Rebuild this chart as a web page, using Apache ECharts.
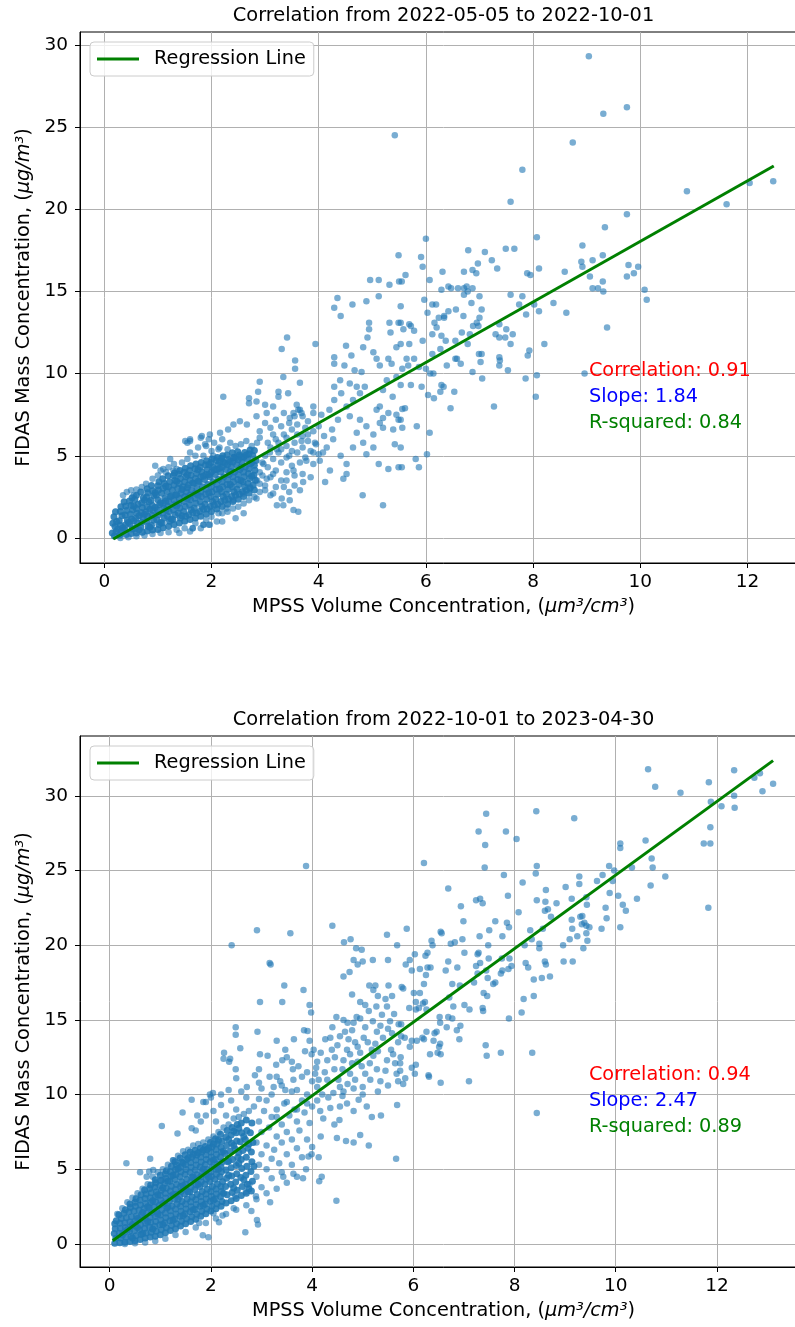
<!DOCTYPE html>
<html>
<head>
<meta charset="utf-8">
<script src="https://cdn.jsdelivr.net/npm/echarts@6/dist/echarts.min.js"></script>
<style>
html,body{margin:0;padding:0;background:#fff;overflow:hidden;}
#main{width:810px;height:1327px;}
</style>
</head>
<body>
<div id="main"></div>
<script>
// ---------- DATA ----------
const titles = ["Correlation from 2022-05-05 to 2022-10-01", "Correlation from 2022-10-01 to 2023-04-30"];
const xTicks = [0, 2, 4, 6, 8, 10, 12];
const yTicks = [0, 5, 10, 15, 20, 25, 30];
const statsTop = { corr: "0.91", slope: "1.84", r2: "0.84" };
const statsBottom = { corr: "0.94", slope: "2.47", r2: "0.89" };
const regTop = [[0.168, -0.06], [12.49, 22.63]];
const regBottom = [[0.059, 0.22], [13.11, 32.35]];

// Top chart: dense core
const topCore = [
[0.15,0.3],[0.16,0.9],[0.19,0.12],[0.22,0.4],[0.2,0.7],[0.23,1.0],[0.18,1.3],[0.21,1.6],
[0.29,0.18],[0.32,0.45],[0.3,0.78],[0.28,1.05],[0.33,1.35],[0.3,1.62],[0.31,1.9],
[0.41,0.22],[0.38,0.5],[0.4,0.8],[0.43,1.1],[0.39,1.4],[0.42,1.68],[0.4,1.95],[0.37,2.2],
[0.5,0.27],[0.52,0.55],[0.48,0.85],[0.51,1.15],[0.49,1.45],[0.53,1.72],[0.5,2.0],[0.47,2.25],[0.52,2.45],
[0.6,0.3],[0.58,0.6],[0.62,0.9],[0.59,1.2],[0.61,1.5],[0.6,1.8],[0.63,2.05],[0.57,2.35],[0.6,2.6],
[0.71,0.35],[0.68,0.66],[0.7,0.95],[0.72,1.25],[0.69,1.55],[0.71,1.85],[0.7,2.15],[0.73,2.45],[0.68,2.8],
[0.8,0.42],[0.82,0.72],[0.79,1.02],[0.81,1.32],[0.78,1.6],[0.8,1.9],[0.83,2.2],[0.79,2.5],[0.81,2.75],[0.8,3.0],
[0.9,0.48],[0.88,0.78],[0.92,1.08],[0.89,1.38],[0.91,1.68],[0.9,1.98],[0.87,2.28],[0.92,2.58],[0.9,2.88],[0.88,3.2],
[1.0,0.52],[1.02,0.82],[0.98,1.12],[1.01,1.42],[0.99,1.72],[1.03,2.02],[1.0,2.32],[0.97,2.62],[1.01,2.92],[1.0,3.18],[1.02,3.42],
[1.1,0.62],[1.08,0.92],[1.12,1.22],[1.09,1.52],[1.11,1.82],[1.1,2.12],[1.13,2.42],[1.07,2.72],[1.1,3.02],[1.12,3.32],[1.09,3.6],
[1.2,0.72],[1.22,1.02],[1.18,1.32],[1.21,1.62],[1.19,1.92],[1.2,2.22],[1.23,2.52],[1.17,2.82],[1.2,3.12],[1.22,3.42],[1.19,3.78],
[1.3,0.82],[1.28,1.12],[1.32,1.42],[1.29,1.72],[1.31,2.02],[1.3,2.32],[1.33,2.62],[1.27,2.92],[1.3,3.22],[1.32,3.52],[1.29,3.8],[1.31,3.95],
[1.4,0.92],[1.42,1.22],[1.38,1.52],[1.41,1.82],[1.39,2.12],[1.4,2.42],[1.43,2.72],[1.37,3.02],[1.4,3.32],[1.42,3.62],[1.39,3.9],[1.41,4.1],
[1.5,1.02],[1.52,1.32],[1.48,1.62],[1.51,1.92],[1.49,2.22],[1.5,2.52],[1.53,2.82],[1.47,3.12],[1.5,3.42],[1.52,3.72],[1.49,4.0],[1.51,4.25],
[1.6,1.12],[1.58,1.42],[1.62,1.72],[1.59,2.02],[1.61,2.32],[1.6,2.62],[1.63,2.92],[1.57,3.22],[1.6,3.52],[1.62,3.82],[1.59,4.1],[1.61,4.4],
[1.7,1.22],[1.72,1.52],[1.68,1.82],[1.71,2.12],[1.69,2.42],[1.7,2.72],[1.73,3.02],[1.67,3.32],[1.7,3.62],[1.72,3.92],[1.69,4.22],[1.71,4.5],
[1.8,1.32],[1.78,1.62],[1.82,1.92],[1.79,2.22],[1.81,2.52],[1.8,2.82],[1.83,3.12],[1.77,3.42],[1.8,3.72],[1.82,4.02],[1.79,4.32],[1.81,4.6],
[1.9,1.46],[1.92,1.76],[1.88,2.06],[1.91,2.36],[1.89,2.66],[1.9,2.96],[1.93,3.26],[1.87,3.56],[1.9,3.86],[1.92,4.16],[1.89,4.46],[1.91,4.7],
[2.0,1.62],[1.98,1.92],[2.02,2.22],[1.99,2.52],[2.01,2.82],[2.0,3.12],[2.03,3.42],[1.97,3.72],[2.0,4.02],[2.02,4.32],[1.99,4.6],[2.01,4.8],
[2.1,1.76],[2.12,2.06],[2.08,2.36],[2.11,2.66],[2.09,2.96],[2.1,3.26],[2.13,3.56],[2.07,3.86],[2.1,4.16],[2.12,4.46],[2.09,4.72],[2.11,4.9],
[2.2,1.92],[2.18,2.22],[2.22,2.52],[2.19,2.82],[2.21,3.12],[2.2,3.42],[2.23,3.72],[2.17,4.02],[2.2,4.32],[2.22,4.62],[2.19,4.85],[2.21,5.0],
[2.3,2.06],[2.32,2.36],[2.28,2.66],[2.31,2.96],[2.29,3.26],[2.3,3.56],[2.33,3.86],[2.27,4.16],[2.3,4.46],[2.32,4.76],[2.29,5.05],
[2.4,2.22],[2.38,2.52],[2.42,2.82],[2.39,3.12],[2.41,3.42],[2.4,3.72],[2.43,4.02],[2.37,4.32],[2.4,4.62],[2.42,4.92],[2.39,5.18],
[2.5,2.36],[2.52,2.66],[2.48,2.96],[2.51,3.26],[2.49,3.56],[2.5,3.86],[2.53,4.16],[2.47,4.46],[2.5,4.76],[2.52,5.05],[2.49,5.25],
[2.6,2.52],[2.58,2.82],[2.62,3.12],[2.59,3.42],[2.61,3.72],[2.6,4.02],[2.63,4.32],[2.57,4.62],[2.6,4.92],[2.62,5.2],
[2.7,2.72],[2.72,3.02],[2.68,3.32],[2.71,3.62],[2.69,3.92],[2.7,4.22],[2.73,4.52],[2.67,4.82],[2.7,5.12],[2.72,5.35],
[2.8,2.92],[2.78,3.22],[2.82,3.52],[2.79,3.82],[2.81,4.12],[2.8,4.42],[2.83,4.72],[2.77,5.02],[2.8,5.32],
[0.25,0.55],[0.35,0.62],[0.45,0.95],[0.55,1.05],[0.65,1.35],[0.75,1.45],[0.85,1.75],[0.95,1.85],[1.05,2.15],[1.15,2.25],
[1.25,2.55],[1.35,2.65],[1.45,2.95],[1.55,3.05],[1.65,3.35],[1.75,3.45],[1.85,3.75],[1.95,3.85],[2.05,4.15],[2.15,4.25],
[2.25,4.55],[2.35,4.65],[2.45,4.85],[2.55,4.95],[2.65,5.05],[0.55,1.95],[0.75,2.3],[0.95,2.75],[1.15,3.15],[1.35,3.45],
[1.55,3.85],[1.75,4.15],[1.95,4.45],[2.15,4.65],[0.65,0.5],[0.85,0.65],[1.05,0.95],[1.25,1.15],[1.45,1.35],[1.65,1.55],
[1.85,1.75],[2.05,2.0],[2.25,2.3],[2.45,2.6],[2.65,2.9],[1.15,1.7],[1.35,1.95],[1.55,2.4],[1.75,2.6],[1.95,2.75],
[2.15,3.0],[2.35,3.25],[2.55,3.5],[2.75,3.75],[2.35,4.05],[2.55,4.3],[2.75,4.6]
];
const topHalo = [
[0.35,2.6],[0.42,2.8],[0.5,2.9],[0.55,2.6],[0.6,2.95],[0.7,3.1],[0.78,3.3],[0.9,3.6],[1.0,3.8],[1.05,4.1],[1.15,4.0],[1.2,4.3],
[1.3,4.5],[1.35,4.2],[1.45,4.6],[1.55,4.8],[1.6,5.2],[1.55,5.8],[1.6,5.9],[1.7,5.0],[1.75,5.5],[1.85,5.0],[1.9,5.6],[1.95,6.0],
[2.0,5.3],[2.05,5.8],[2.15,5.5],[2.2,6.0],[2.3,5.4],[2.35,5.8],[2.45,5.6],[2.55,5.7],[2.65,5.9],[2.75,5.6],[2.85,5.8],[2.9,6.1],[1.8,6.1],
[0.3,0.0],[0.45,0.05],[0.6,0.1],[0.75,0.15],[0.9,0.25],[1.05,0.3],[1.2,0.35],[1.35,0.5],[1.5,0.6],[1.6,0.4],[1.7,0.9],[1.8,0.6],
[1.9,1.1],[2.0,1.3],[2.1,1.0],[2.2,1.5],[2.3,1.6],[2.4,1.8],[2.5,1.9],[2.6,2.1],[2.7,2.3],[2.8,2.5],[2.9,2.8],[1.65,0.6],[1.95,0.8],
[1.85,0.8],[2.45,1.2],[2.6,1.5],[2.2,1.0],[1.4,0.3],
[2.85,3.5],[2.9,4.0],[2.95,4.6],[3.0,3.2],[3.0,5.0],[3.05,4.3],[3.1,3.7],[3.1,5.5],[3.15,4.8],[3.2,4.1],[3.2,6.0],[3.25,5.2],
[3.3,3.5],[3.3,4.6],[3.35,6.3],[3.4,5.6],[3.4,4.0],[3.45,5.0],[3.5,6.6],[3.5,4.4],[3.55,3.8],[3.55,5.8],[3.6,5.2],[3.6,6.9],
[3.65,4.6],[3.7,6.2],[3.7,5.5],[3.75,4.9],[3.8,5.9],[3.8,7.1],[3.85,5.3],[3.9,6.5],[3.9,4.5],[3.95,5.7],[4.0,6.8],[4.0,5.1],
[2.9,6.5],[3.0,7.0],[3.1,6.7],[3.2,7.2],[3.3,6.8],[3.35,7.6],[3.45,7.0],[3.55,7.4],[3.65,7.8],[3.7,7.4],[4.05,7.5],[4.1,6.2],
[4.15,5.5],[4.2,7.8],[4.25,6.6],[3.0,2.9],[3.1,2.6],[3.2,3.1],[3.35,3.1],[3.45,2.8],[3.55,3.2],[3.7,3.9],[3.85,3.7],[2.95,3.8],
[3.05,5.8],[3.25,5.8],[3.6,6.3],[3.75,6.7],[3.9,7.6],[3.5,5.3],[3.3,5.4],[3.15,6.3]
];
const topSpread = [
[5.42,24.5],[5.49,17.2],[4.96,15.7],[5.12,15.7],[5.32,15.4],[5.5,15.6],[4.35,14.6],[4.63,14.2],[4.29,14.0],[4.41,13.5],[4.89,14.4],
[5.12,14.7],[4.94,13.1],[4.94,12.7],[4.91,12.2],[5.32,13.1],[5.49,13.1],[5.34,12.5],[5.45,11.6],[3.41,12.2],[3.31,11.5],[3.94,11.8],
[4.51,11.7],[4.61,11.1],[4.83,11.6],[5.02,11.3],[4.29,11.0],[4.29,10.6],[4.48,10.5],[4.67,10.2],[4.8,10.1],[5.08,10.9],[5.14,10.5],
[5.3,10.9],[5.36,10.6],[3.56,10.8],[3.56,10.3],[3.34,9.8],[3.65,9.45],[2.9,9.5],[2.87,8.9],[2.7,8.5],[2.7,8.2],[2.22,8.6],[2.84,8.3],
[4.29,9.2],[4.4,9.6],[4.58,9.4],[4.71,9.2],[4.86,9.2],[4.77,8.8],[4.64,8.4],[4.52,8.0],[4.42,8.8],[4.29,8.4],[5.27,9.6],[5.45,9.8],
[5.2,9.0],[5.38,8.6],[5.14,8.0],[5.3,7.6],[5.08,7.8],[5.2,7.3],[5.14,7.0],[5.2,6.7],[5.02,6.3],[5.45,7.5],[5.49,7.2],[5.39,6.6],
[5.42,5.7],[4.77,7.2],[4.58,7.4],[4.89,6.8],[4.71,6.4],[4.83,5.8],[5.02,5.5],[4.64,5.5],[4.89,5.1],[4.41,5.0],[4.52,4.5],[4.27,6.0],
[4.36,7.2],[5.3,4.2],[5.12,4.5],[4.82,2.6],[5.2,2.0],[5.49,4.3],[4.46,3.6],[4.52,3.9],[4.12,3.4],[4.21,4.1],[3.62,1.6],[3.53,1.7],
[3.34,2.0],[3.22,2.0],[3.31,2.4],[3.46,2.3],[3.65,2.9],[3.71,3.4],[3.15,2.7],[2.84,2.4],[3.4,6.1],[3.46,7.3],[3.53,7.6],[3.68,7.6],
[3.62,7.8],[3.9,8.0],[3.59,8.1],[3.43,8.8],[3.25,8.9],[3.25,8.6],[3.15,8.0],[3.03,7.6],[3.0,8.1],[2.84,7.4],[2.66,6.9],[2.53,7.1],
[2.41,6.9],[2.31,6.6],[2.16,6.4],[1.97,6.3],[1.82,6.2],[1.51,5.9],[1.6,6.0],[2.13,5.4],[1.88,5.7],[2.03,5.0],[2.41,4.9],[0.95,4.4],
[1.1,4.2],[1.23,4.8],[1.29,4.1],[3.68,5.9],[3.8,6.3],[3.93,5.8],[3.9,5.2],[3.77,4.7],[4.02,4.7],[4.08,5.2],[3.4,4.9],[3.22,5.4],
[3.09,5.2],[2.97,4.5],[3.53,4.1],[3.4,3.5],[3.15,3.9],[3.03,3.6],[2.9,3.3],[2.72,3.1],[2.59,2.7],[2.41,2.3],[2.28,1.8],[2.13,1.5],
[1.97,0.8],[1.85,0.8],[1.65,0.6],
[9.04,29.3],[9.31,25.8],[9.75,26.2],
[8.74,24.06],[7.8,22.4],[7.58,20.45],[10.87,21.1],[12.04,21.6],[12.48,21.7],[11.61,20.3],[9.75,19.7],[9.34,18.9],[6.0,18.2],
[8.07,18.3],[8.92,17.8],[7.49,17.6],[7.65,17.6],[6.79,17.5],[7.1,17.4],[5.91,17.1],[5.94,16.5],[5.62,16.0],[5.55,15.6],[6.97,16.7],
[7.23,16.9],[7.33,16.4],[6.71,16.2],[6.87,16.3],[6.94,16.1],[6.31,16.2],[6.07,15.7],[7.89,16.1],[7.95,16.0],[8.11,16.4],[8.9,16.8],
[8.92,16.5],[9.11,16.9],[9.3,17.2],[9.78,16.6],[9.96,16.5],[9.75,15.9],[9.88,16.1],[8.59,16.2],[9.06,15.9],[9.3,15.6],[9.11,15.2],
[9.21,15.2],[9.31,15.0],[10.08,15.1],[10.12,14.5],[9.38,12.8],[8.62,13.7],[8.38,14.3],[7.58,14.8],[7.8,14.7],[7.74,14.2],[7.87,13.6],
[8.02,14.2],[8.11,13.8],[6.42,15.3],[6.47,15.2],[6.6,15.2],[6.71,15.2],[6.76,15.3],[6.87,15.2],[6.29,15.1],[6.71,14.8],[6.78,15.0],
[7.0,14.7],[6.85,14.3],[6.56,13.9],[6.42,13.8],[6.34,13.5],[6.34,13.4],[6.24,13.4],[6.16,13.1],[6.2,12.8],[6.12,12.4],[6.29,12.3],
[6.03,13.7],[6.12,14.2],[6.19,14.2],[5.97,14.5],[5.53,14.1],[6.7,13.5],[7.0,13.4],[7.04,13.9],[6.95,13.1],[6.98,12.9],[6.88,12.9],
[6.82,12.4],[6.67,12.5],[7.37,13.0],[7.3,12.4],[7.37,12.2],[7.5,12.7],[7.62,12.4],[7.48,12.2],[7.58,11.8],[6.55,12.0],[6.78,11.8],
[6.37,12.0],[6.27,11.5],[6.12,11.2],[5.69,13.0],[5.78,12.6],[5.72,12.9],[5.53,13.1],[5.58,12.7],[5.69,11.8],[5.94,12.0],[5.53,11.8],
[5.64,10.9],[5.78,10.9],[6.0,10.3],[5.87,10.4],[5.67,10.5],[5.56,10.3],[6.55,10.9],[6.58,10.9],[6.39,10.5],[6.65,10.6],[6.87,10.1],
[7.05,9.7],[6.99,11.2],[7.04,11.2],[7.02,10.7],[7.37,11.0],[7.38,10.8],[7.37,10.5],[7.53,10.2],[7.9,11.1],[7.93,11.4],[8.21,11.8],
[7.86,9.7],[8.07,9.9],[8.05,8.6],[7.27,8.0],[8.96,10.0],[6.29,9.3],[6.33,9.2],[6.27,8.9],[6.53,8.9],[6.46,7.9],[6.04,8.7],[6.15,8.5],
[6.08,10.0],[6.14,10.0],[5.92,9.2],[5.72,9.3],[5.53,9.3],[5.56,7.85],[5.61,7.9],[5.53,7.2],[5.56,6.7],[5.83,6.8],[6.07,6.4],[5.53,5.5],
[5.81,4.8],[5.87,4.3],[6.02,5.1],[5.55,4.3]
];

// Bottom chart
const bottomCore = [
[0.1,0.05],[0.12,0.38],[0.09,0.7],[0.11,1.02],[0.1,1.35],[0.13,1.55],
[0.2,0.08],[0.22,0.4],[0.19,0.72],[0.21,1.05],[0.2,1.38],[0.23,1.7],[0.18,1.95],
[0.3,0.12],[0.32,0.45],[0.29,0.78],[0.31,1.1],[0.3,1.43],[0.33,1.76],[0.28,2.05],[0.31,2.3],
[0.4,0.16],[0.42,0.5],[0.39,0.83],[0.41,1.16],[0.4,1.49],[0.43,1.82],[0.38,2.15],[0.41,2.45],[0.4,2.68],
[0.5,0.22],[0.52,0.55],[0.49,0.88],[0.51,1.21],[0.5,1.54],[0.53,1.87],[0.48,2.2],[0.51,2.52],[0.5,2.8],[0.52,3.02],
[0.6,0.3],[0.62,0.63],[0.59,0.96],[0.61,1.29],[0.6,1.62],[0.63,1.95],[0.58,2.28],[0.61,2.61],[0.6,2.94],[0.62,3.3],
[0.7,0.4],[0.72,0.73],[0.69,1.06],[0.71,1.39],[0.7,1.72],[0.73,2.05],[0.68,2.38],[0.71,2.71],[0.7,3.04],[0.72,3.35],[0.69,3.62],
[0.8,0.46],[0.82,0.79],[0.79,1.12],[0.81,1.45],[0.8,1.78],[0.83,2.11],[0.78,2.44],[0.81,2.77],[0.8,3.1],[0.82,3.43],[0.79,3.72],[0.81,3.95],
[0.9,0.52],[0.92,0.85],[0.89,1.18],[0.91,1.51],[0.9,1.84],[0.93,2.17],[0.88,2.5],[0.91,2.83],[0.9,3.16],[0.92,3.49],[0.89,3.82],[0.91,4.1],[0.9,4.3],
[1.0,0.62],[1.02,0.95],[0.99,1.28],[1.01,1.61],[1.0,1.94],[1.03,2.27],[0.98,2.6],[1.01,2.93],[1.0,3.26],[1.02,3.59],[0.99,3.92],[1.01,4.25],[1.0,4.6],
[1.1,0.76],[1.12,1.09],[1.09,1.42],[1.11,1.75],[1.1,2.08],[1.13,2.41],[1.08,2.74],[1.11,3.07],[1.1,3.4],[1.12,3.73],[1.09,4.06],[1.11,4.39],[1.1,4.7],[1.12,4.9],
[1.2,0.9],[1.22,1.23],[1.19,1.56],[1.21,1.89],[1.2,2.22],[1.23,2.55],[1.18,2.88],[1.21,3.21],[1.2,3.54],[1.22,3.87],[1.19,4.2],[1.21,4.53],[1.2,4.86],[1.22,5.2],
[1.3,1.02],[1.32,1.35],[1.29,1.68],[1.31,2.01],[1.3,2.34],[1.33,2.67],[1.28,3.0],[1.31,3.33],[1.3,3.66],[1.32,3.99],[1.29,4.32],[1.31,4.65],[1.3,4.98],[1.32,5.28],[1.29,5.5],
[1.4,1.2],[1.42,1.53],[1.39,1.86],[1.41,2.19],[1.4,2.52],[1.43,2.85],[1.38,3.18],[1.41,3.51],[1.4,3.84],[1.42,4.17],[1.39,4.5],[1.41,4.83],[1.4,5.16],[1.42,5.48],[1.39,5.75],
[1.5,1.36],[1.52,1.69],[1.49,2.02],[1.51,2.35],[1.5,2.68],[1.53,3.01],[1.48,3.34],[1.51,3.67],[1.5,4.0],[1.52,4.33],[1.49,4.66],[1.51,4.99],[1.5,5.32],[1.52,5.65],[1.49,5.98],
[1.6,1.5],[1.62,1.83],[1.59,2.16],[1.61,2.49],[1.6,2.82],[1.63,3.15],[1.58,3.48],[1.61,3.81],[1.6,4.14],[1.62,4.47],[1.59,4.8],[1.61,5.13],[1.6,5.46],[1.62,5.8],[1.59,6.15],
[1.7,1.66],[1.72,1.99],[1.69,2.32],[1.71,2.65],[1.7,2.98],[1.73,3.31],[1.68,3.64],[1.71,3.97],[1.7,4.3],[1.72,4.63],[1.69,4.96],[1.71,5.29],[1.7,5.62],[1.72,5.95],[1.69,6.28],
[1.8,1.86],[1.82,2.19],[1.79,2.52],[1.81,2.85],[1.8,3.18],[1.83,3.51],[1.78,3.84],[1.81,4.17],[1.8,4.5],[1.82,4.83],[1.79,5.16],[1.81,5.49],[1.8,5.82],[1.82,6.15],[1.79,6.4],
[1.9,2.02],[1.92,2.35],[1.89,2.68],[1.91,3.01],[1.9,3.34],[1.93,3.67],[1.88,4.0],[1.91,4.33],[1.9,4.66],[1.92,4.99],[1.89,5.32],[1.91,5.65],[1.9,5.98],[1.92,6.3],[1.89,6.52],
[2.0,2.2],[2.02,2.53],[1.99,2.86],[2.01,3.19],[2.0,3.52],[2.03,3.85],[1.98,4.18],[2.01,4.51],[2.0,4.84],[2.02,5.17],[1.99,5.5],[2.01,5.83],[2.0,6.16],[2.02,6.5],[1.99,6.8],
[2.1,2.36],[2.12,2.69],[2.09,3.02],[2.11,3.35],[2.1,3.68],[2.13,4.01],[2.08,4.34],[2.11,4.67],[2.1,5.0],[2.12,5.33],[2.09,5.66],[2.11,5.99],[2.1,6.32],[2.12,6.7],[2.09,7.05],
[2.2,2.52],[2.22,2.85],[2.19,3.18],[2.21,3.51],[2.2,3.84],[2.23,4.17],[2.18,4.5],[2.21,4.83],[2.2,5.16],[2.22,5.49],[2.19,5.82],[2.21,6.15],[2.2,6.48],[2.22,6.9],[2.19,7.35],
[2.3,2.75],[2.32,3.3],[2.29,3.85],[2.31,4.4],[2.3,4.95],[2.33,5.5],[2.28,6.05],[2.31,6.6],[2.3,7.15],[2.32,7.6],
[2.4,2.9],[2.42,3.45],[2.39,4.0],[2.41,4.55],[2.4,5.1],[2.43,5.65],[2.38,6.2],[2.41,6.75],[2.4,7.3],[2.42,7.8],
[2.5,3.05],[2.52,3.6],[2.49,4.15],[2.51,4.7],[2.5,5.25],[2.53,5.8],[2.48,6.35],[2.51,6.9],[2.5,7.45],[2.52,8.0],
[2.6,3.25],[2.62,3.85],[2.59,4.45],[2.61,5.05],[2.6,5.65],[2.63,6.25],[2.58,6.85],[2.61,7.45],[2.6,8.1],
[2.7,3.4],[2.72,4.0],[2.69,4.6],[2.71,5.2],[2.7,5.8],[2.73,6.4],[2.68,7.0],[2.71,7.6],[2.7,8.3],
[2.8,3.55],[2.82,4.2],[2.79,4.85],[2.81,5.5],[2.8,6.15],[2.83,6.8],[2.78,7.45],[2.81,8.1],
[0.25,0.6],[0.35,0.95],[0.45,1.3],[0.55,1.7],[0.65,2.1],[0.75,2.5],[0.85,2.9],[0.95,3.3],[1.05,3.75],[1.15,4.2],
[1.25,4.6],[1.35,5.05],[1.45,5.4],[1.55,5.75],[1.65,6.0],[1.75,6.1],[1.85,6.3],[1.95,6.4],[2.05,6.7],[2.15,6.95],
[0.45,0.4],[0.65,0.7],[0.85,1.0],[1.05,1.3],[1.25,1.6],[1.45,1.9],[1.65,2.3],[1.85,2.6],[2.05,2.95],[2.25,3.4],
[0.55,1.1],[0.75,1.5],[0.95,2.0],[1.15,2.5],[1.35,3.0],[1.55,3.5],[1.75,4.0],[1.95,4.5],[2.15,5.0],[2.35,5.55],
[1.05,2.7],[1.25,3.3],[1.45,3.9],[1.65,4.5],[1.85,5.0],[2.05,5.6],[2.25,6.2],[2.45,6.6],[2.35,4.6],[2.55,5.4],
[2.45,3.75],[2.65,4.3],[2.55,6.1],[2.75,6.7],[2.65,7.2],[2.85,5.2],[2.75,3.7],[2.35,7.0],[2.45,7.55],[2.55,7.75]
];
const bottomHalo = [
[2.9,4.5],[2.95,5.3],[3.0,6.0],[2.9,6.8],[3.0,7.5],[2.95,8.2],[3.05,8.9],[3.1,5.0],[3.1,6.6],[3.15,7.8],[3.2,5.7],[3.2,8.5],
[3.25,6.3],[3.3,7.2],[3.3,9.0],[3.35,5.4],[3.4,6.8],[3.4,8.0],[3.45,9.4],[3.5,6.0],[3.5,7.5],[3.55,8.6],[3.6,5.3],[3.6,7.0],
[3.65,9.0],[3.7,6.4],[3.7,8.2],[3.75,7.6],[3.8,9.6],[3.8,5.8],[3.85,8.8],[3.9,7.0],[3.9,10.0],[3.95,8.1],[4.0,9.2],[4.0,6.5],
[3.1,9.6],[3.2,10.0],[2.95,9.7],[2.85,9.2],[2.75,8.9],[2.65,8.7],[2.55,8.5],[2.45,8.4],[2.35,8.0],[2.25,7.8],[2.15,7.5],[2.05,7.2],
[1.95,7.0],[1.85,6.8],[1.75,6.7],[1.65,6.6],[1.55,6.3],[1.45,6.2],[1.35,5.9],[1.25,5.6],[1.15,5.3],[1.05,5.0],[0.95,4.8],[0.85,4.5],
[0.75,4.0],[0.65,3.7],[0.55,3.4],[0.45,3.1],[0.35,2.8],[0.25,2.4],[0.15,2.0],[2.5,9.0],[2.3,8.6],[2.1,8.2],[2.4,9.6],[2.2,9.3],
[2.7,9.8],[2.6,10.2],[3.0,10.4],[3.4,10.6],[3.6,10.2],[2.2,10.0],[2.0,9.8],[1.9,9.5],[1.8,8.2],[1.7,7.6],[1.9,8.6],[2.05,8.9],
[0.3,0.0],[0.5,0.05],[0.7,0.1],[0.9,0.2],[1.1,0.35],[1.3,0.6],[1.5,0.8],[1.7,1.1],[1.9,1.4],[2.1,1.7],[2.3,2.0],[2.5,2.3],
[2.7,2.6],[2.9,3.0],[3.1,3.4],[3.3,3.7],[3.5,4.1],[3.7,4.5],[3.0,3.8],[3.2,4.4],[3.4,4.8]
];
const bottomSpread = [
[3.88,25.3],[2.91,21.0],[3.57,20.8],[2.41,20.0],[4.40,21.3],[3.16,18.8],[3.18,18.7],[3.45,17.3],[3.83,17.0],[2.97,16.2],[3.41,16.2],
[3.95,16.0],[3.98,15.5],[2.49,14.5],[2.49,14.0],[2.92,14.2],[3.3,13.6],[3.64,13.7],[3.84,14.3],[3.91,14.25],[3.95,13.6],[2.26,12.8],
[2.25,12.4],[2.38,12.4],[2.36,12.2],[2.58,13.1],[2.49,11.7],[2.5,11.1],[2.87,11.3],[2.97,12.7],[3.12,12.6],[2.95,11.7],[2.95,10.8],
[2.71,10.5],[3.16,11.2],[2.35,10.3],[2.04,10.1],[1.98,10.0],[1.62,9.65],[1.85,9.5],[1.44,8.8],[1.73,8.6],[1.62,7.75],[1.03,7.9],
[1.34,7.4],[3.47,13.0],[3.5,12.5],[3.6,12.2],[3.73,11.9],[3.62,11.7],[3.41,12.3],[3.29,12.0],[3.3,11.2],[3.37,10.9],[3.24,10.5],
[3.47,10.3],[3.7,10.3],[3.63,11.0],[3.8,11.2],[3.86,12.9],[4.03,13.0],[4.06,11.4],[4.13,11.0],[4.17,12.8],[3.99,12.7],[4.08,11.8],
[4.26,13.7],[4.36,13.8],[4.39,13.0],[4.44,11.7],[4.52,11.0],[4.62,12.3],[4.69,13.0],[4.72,13.7],[4.75,12.7],[4.79,12.1],[4.75,11.4],
[4.9,13.2],[4.95,12.8],[4.98,11.9],[5.05,11.4],[5.14,12.1],[5.18,13.0],[5.21,12.6],[5.28,11.7],[5.48,12.3],[5.56,13.0],[5.64,12.1],
[5.67,11.4],[4.48,15.2],[4.62,15.0],[4.82,14.8],[4.95,15.1],[5.12,15.6],[5.27,15.9],[5.48,15.9],[5.38,15.35],[5.54,14.9],[5.71,14.7],
[5.58,14.1],[5.28,14.2],[4.65,14.2],[4.79,14.3],[5.02,13.8],[4.62,17.9],[4.74,18.2],[4.82,19.0],[4.87,19.8],[4.98,19.7],[4.76,20.4],
[4.63,20.2],[5.0,18.9],[4.9,18.7],[5.2,19.0],[5.13,17.3],[5.25,17.3],[5.21,17.0],[5.51,17.3],[5.48,20.7],[5.5,19.0],[5.68,20.0],
[5.58,16.6],[4.79,16.7],[4.95,16.2],[4.88,15.2],[4.48,2.9],[4.19,4.5],[4.14,4.2],[3.93,5.85],[3.82,4.4],[3.63,4.7],[3.43,4.5],
[3.17,2.8],[2.91,1.6],[2.93,1.3],[2.68,0.78],[2.8,2.2],[2.89,3.2],[2.45,2.4],[2.48,3.2],[2.69,3.5],[2.76,4.0],[1.84,0.58],[1.95,0.45],
[2.16,1.45],[2.23,1.9],[2.05,2.05],[1.77,1.4],[0.33,5.4],[0.6,4.8],[0.78,4.85],[0.86,4.96],[0.73,4.5],[1.26,5.6],[1.04,4.3],[0.8,5.7],
[5.66,5.7],[5.12,6.6],[4.49,7.1],[4.67,6.9],[4.82,6.8],[4.95,7.3],[5.18,8.5],[5.08,9.2],[5.36,8.6],[5.68,9.3],[4.82,8.9],[4.69,9.4],
[3.88,5.0],[3.99,6.0],[4.13,5.8],[4.17,7.2],[4.22,8.4],[4.16,8.9],[4.44,8.0],[4.54,8.3],[4.36,9.1],[4.32,9.8],[4.42,10.1],[4.62,10.2],
[4.82,10.4],[4.92,9.65],[4.55,9.2],
[4.1,10.5],[4.2,10.0],[4.25,11.5],[4.3,12.3],[4.45,12.5],[4.5,13.3],[4.55,10.5],[4.6,11.7],[4.7,10.7],[4.85,11.0],[4.9,12.2],[5.0,10.5],
[5.1,13.5],[5.15,11.0],[5.25,13.4],[5.3,12.9],[5.35,10.9],[5.4,13.8],[5.45,11.6],[5.5,14.4],[5.6,12.7],[5.62,15.4],[5.7,13.5],[5.75,12.5],
[4.4,14.5],[4.55,13.9],[4.7,14.8],[4.85,13.5],[5.05,14.5],[5.2,14.9],[5.35,14.6],[5.45,16.4],[5.3,16.6],[5.05,16.0],[4.3,11.0],[4.0,10.9],
[3.9,11.5],[4.1,12.2],[4.6,9.9],[5.0,10.0],[5.3,10.2],[5.5,10.6],[5.7,10.9],[3.5,9.5],[3.7,9.0],[3.3,8.5],[3.9,9.4],[4.1,9.6],
[7.29,27.6],[7.83,27.6],[8.04,27.1],[7.42,26.7],[6.21,25.5],[7.41,25.2],[7.79,24.7],[8.44,25.3],[8.42,24.8],[8.16,24.2],[6.69,23.8],
[6.94,22.6],[6.99,21.6],[7.24,23.0],[7.32,23.1],[7.37,22.8],[7.87,23.3],[8.08,22.2],[5.87,21.1],[6.54,20.9],[6.56,20.8],[6.74,20.1],
[6.82,20.2],[6.97,20.4],[7.31,20.6],[7.5,21.0],[7.62,21.6],[7.76,20.6],[7.85,21.5],[7.89,21.2],[8.62,23.7],[8.61,22.9],[8.44,23.0],
[8.6,22.3],[8.66,22.4],[8.72,21.9],[8.83,22.8],[9.01,23.9],[9.13,23.1],[9.28,24.6],[9.28,24.1],[9.42,23.2],[9.43,22.7],[9.63,24.3],
[9.74,24.7],[9.87,25.3],[9.97,25.0],[9.94,24.3],[9.88,23.5],[10.05,23.3],[10.09,26.5],[10.09,26.8],[10.32,25.2],[10.59,27.0],[10.71,25.8],
[10.73,25.2],[10.69,24.0],[10.42,23.1],[10.98,24.6],[10.14,22.7],[10.2,22.3],[10.09,21.2],[9.8,22.5],[9.82,21.8],[9.72,21.1],[11.74,26.8],
[11.87,26.8],[11.87,27.9],[11.83,22.5],[9.13,21.7],[9.3,21.9],[9.34,21.95],[9.38,21.5],[9.42,21.3],[9.48,21.2],[9.33,21.4],[9.24,20.6],
[9.42,20.8],[9.44,20.3],[9.36,19.8],[9.09,20.4],[8.96,20.0],[8.97,18.9],[9.15,18.9],[9.14,21.1],[8.31,21.0],[8.34,20.4],[8.2,20.0],
[8.22,18.8],[8.27,18.5],[8.38,17.7],[8.54,17.8],[8.7,17.9],[8.38,16.6],[8.18,16.4],[8.14,15.5],[8.35,12.8],[8.44,8.76],[8.49,20.1],
[8.49,19.8],[8.6,18.9],[8.62,18.7],[8.56,21.1],[7.62,17.5],[7.58,17.4],[7.73,18.1],[7.76,18.3],[7.88,18.4],[7.94,18.6],[7.9,19.1],
[7.49,19.1],[7.47,17.8],[7.44,18.3],[7.32,18.8],[7.24,18.6],[7.27,19.4],[7.29,19.5],[7.48,20.0],[7.2,17.5],[7.27,18.1],[7.75,19.1],
[7.39,16.8],[7.46,16.6],[7.37,15.8],[7.38,15.6],[7.89,15.1],[7.73,12.8],[7.43,13.3],[7.45,12.6],[7.1,10.9],[6.93,14.6],[6.91,13.7],
[6.66,14.5],[6.69,15.2],[6.53,14.8],[6.52,15.2],[6.42,14.1],[6.46,14.2],[6.4,13.6],[6.51,13.2],[6.48,12.8],[6.54,12.7],[6.53,13.4],
[6.33,12.7],[6.54,10.8],[7.01,16.0],[7.11,15.7],[6.92,17.3],[6.77,17.4],[6.64,18.3],[6.69,18.9],[6.87,18.5],[7.01,19.5],[6.26,14.2],
[6.18,13.8],[6.21,13.7],[6.07,13.6],[5.97,13.6],[5.83,13.8],[5.93,13.2],[6.05,12.0],[6.03,11.4],[5.97,11.8],[5.74,11.6],[5.84,11.1],
[5.8,10.7],[6.3,11.3],[6.31,11.2],[6.05,15.7],[6.11,15.8],[6.26,15.7],[6.23,16.2],[6.19,16.1],[6.13,16.8],[6.21,17.4],[6.25,18.0],
[6.28,18.5],[6.34,18.5],[6.13,18.4],[6.03,19.4],[6.24,19.3],[6.28,19.5],[5.85,18.7],[5.93,19.0],[5.97,18.3],[6.38,20.0],[6.36,20.3],
[6.01,16.8],[5.92,15.8],[6.05,16.2],[5.77,17.2],[5.8,17.1],[5.76,14.7],[5.76,13.9],[5.74,12.1],[6.77,15.1],[6.86,14.3],[6.79,15.9],
[6.71,16.5],
[10.64,31.77],[10.78,30.6],[11.28,30.2],[11.84,30.9],[12.34,31.7],[12.74,31.2],[12.85,31.5],[13.11,30.8],[12.9,30.3],[12.34,30.0],
[11.88,29.6],[12.09,29.3],[12.35,29.2],[7.44,28.8],[8.43,28.96],[9.18,28.5]
];

// ---------- CHART ----------
const FONT = "DejaVu Sans";
const chart = echarts.init(document.getElementById('main'), null, { renderer: 'canvas' });

const grids = [
  { left: 80, top: 32, width: 727, height: 531 },
  { left: 80, top: 736, width: 727, height: 531 }
];
const xRanges = [[-0.453, 13.11], [-0.587, 13.78]];
const yRanges = [[-1.52, 30.78], [-1.54, 34.0]];

function xAxisCfg(i) {
  return {
    type: 'value', gridIndex: i, min: xRanges[i][0], max: xRanges[i][1],
    axisLine: { show: true, onZero: false, lineStyle: { color: '#000', width: 1 } },
    axisTick: { show: true, length: 5, customValues: xTicks, lineStyle: { color: '#000', width: 1 } },
    axisLabel: { customValues: xTicks, margin: 10, fontSize: 18.5, color: '#000', fontFamily: FONT },
    splitLine: { show: true, lineStyle: { color: '#b0b0b0', width: 1 } },
    name: '{n|MPSS Volume Concentration, (}{i|μm³/cm³}{n|)}',
    nameLocation: 'middle', nameGap: 34,
    nameTextStyle: {
      rich: {
        n: { fontSize: 19.3, color: '#000', fontFamily: FONT },
        i: { fontSize: 19.3, color: '#000', fontFamily: FONT, fontStyle: 'italic' }
      }
    }
  };
}
function yAxisCfg(i) {
  return {
    type: 'value', gridIndex: i, min: yRanges[i][0], max: yRanges[i][1],
    axisLine: { show: true, onZero: false, lineStyle: { color: '#000', width: 1 } },
    axisTick: { show: true, length: 5, customValues: yTicks, lineStyle: { color: '#000', width: 1 } },
    axisLabel: { customValues: yTicks, margin: 12, fontSize: 18.5, color: '#000', fontFamily: FONT },
    splitLine: { show: true, lineStyle: { color: '#b0b0b0', width: 1 } },
    name: '{n|FIDAS Mass Concentration, (}{i|μg/m³}{n|)}',
    nameLocation: 'middle', nameGap: 46, nameRotate: 90,
    nameTextStyle: {
      rich: {
        n: { fontSize: 19.3, color: '#000', fontFamily: FONT },
        i: { fontSize: 19.3, color: '#000', fontFamily: FONT, fontStyle: 'italic' }
      }
    }
  };
}

const scatterStyle = { color: '#1f77b4', opacity: 0.6 };
const coreStyle = { color: '#1f77b4', opacity: 0.88 };

function statTexts(i, st) {
  const g = grids[i];
  const x = g.left + 0.7 * g.width;
  const yc = g.top + g.height * (1 - 0.362);
  const items = [
    { t: 'Correlation: ' + st.corr, c: '#ff0000', dy: 0 },
    { t: 'Slope: ' + st.slope, c: '#0000ff', dy: 26.3 },
    { t: 'R-squared: ' + st.r2, c: '#008000', dy: 52.6 }
  ];
  return items.map(it => ({
    type: 'text', z: 100,
    style: { x: x, y: yc + it.dy, text: it.t, fill: it.c, fontSize: 19.3, fontFamily: FONT, verticalAlign: 'middle', align: 'left' }
  }));
}

const option = {
  animation: false,
  backgroundColor: '#fff',
  grid: grids.map(g => Object.assign({ show: true, borderColor: '#000', borderWidth: 1, backgroundColor: 'transparent' }, g)),
  xAxis: [xAxisCfg(0), xAxisCfg(1)],
  yAxis: [yAxisCfg(0), yAxisCfg(1)],
  legend: [0, 1].map(i => ({
    left: 90, top: grids[i].top + 10,
    orient: 'vertical',
    data: [{ name: 'Regression Line', icon: 'rect' }],
    itemWidth: 42, itemHeight: 3,
    padding: [7, 8, 7, 7],
    backgroundColor: 'rgba(255,255,255,0.8)',
    borderColor: '#cccccc', borderWidth: 1, borderRadius: 4,
    selectedMode: false,
    itemStyle: { color: '#008000', borderWidth: 0 },
    textStyle: { fontSize: 19.3, color: '#000', fontFamily: FONT, lineHeight: 20, padding: [0, 0, 0, 10] }
  })),
  graphic: [
    { type: 'text', style: { x: 443.5, y: 16, text: titles[0], fill: '#000', fontSize: 19.4, fontFamily: FONT, align: 'center', verticalAlign: 'middle' } },
    { type: 'text', style: { x: 443.5, y: 720, text: titles[1], fill: '#000', fontSize: 19.4, fontFamily: FONT, align: 'center', verticalAlign: 'middle' } }
  ].concat(statTexts(0, statsTop), statTexts(1, statsBottom)),
  series: [
    { type: 'scatter', name: 'core0', xAxisIndex: 0, yAxisIndex: 0, symbolSize: 7, itemStyle: coreStyle,
      data: topCore, z: 2 },
    { type: 'scatter', name: 'data0', xAxisIndex: 0, yAxisIndex: 0, symbolSize: 6.5, itemStyle: scatterStyle,
      data: topHalo.concat(topSpread), z: 2 },
    { type: 'line', name: 'Regression Line', xAxisIndex: 0, yAxisIndex: 0, data: regTop, symbol: 'none',
      lineStyle: { color: '#008000', width: 3 }, itemStyle: { color: '#008000' }, z: 5 },
    { type: 'scatter', name: 'core1', xAxisIndex: 1, yAxisIndex: 1, symbolSize: 7, itemStyle: coreStyle,
      data: bottomCore, z: 2 },
    { type: 'scatter', name: 'data1', xAxisIndex: 1, yAxisIndex: 1, symbolSize: 6.5, itemStyle: scatterStyle,
      data: bottomHalo.concat(bottomSpread), z: 2 },
    { type: 'line', name: 'Regression Line', xAxisIndex: 1, yAxisIndex: 1, data: regBottom, symbol: 'none',
      lineStyle: { color: '#008000', width: 3 }, itemStyle: { color: '#008000' }, z: 5 }
  ]
};
chart.setOption(option);
</script>
</body>
</html>
